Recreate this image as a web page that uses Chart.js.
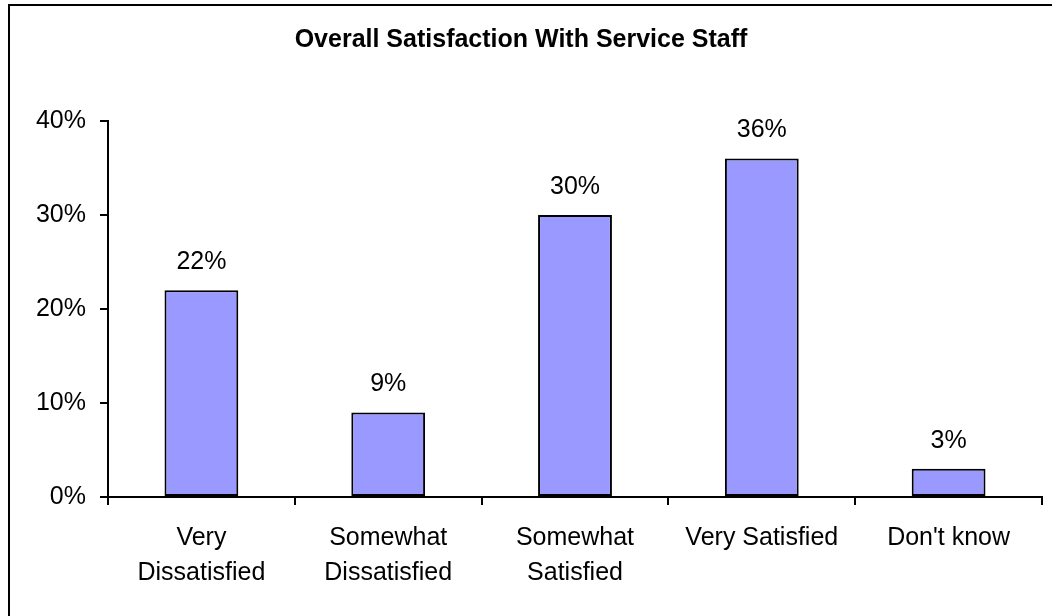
<!DOCTYPE html>
<html>
<head>
<meta charset="utf-8">
<title>Overall Satisfaction With Service Staff</title>
<script src="https://cdn.jsdelivr.net/npm/chart.js@4.4.1/dist/chart.umd.min.js"></script>
<style>
  html, body { margin:0; padding:0; background:#fff; }
  #wrap { width:1052px; height:616px; }
</style>
</head>
<body>
<div id="wrap"><canvas id="satChart" width="1052" height="616"></canvas></div>
<script>
const categories = [['Very', 'Dissatisfied'], ['Somewhat', 'Dissatisfied'], ['Somewhat', 'Satisfied'], 'Very Satisfied', "Don't know"];
const shares     = [22, 9, 30, 36, 3];
const yTicks     = [0, 10, 20, 30, 40];

const FONT = '"Liberation Sans", Arial, sans-serif';

/* frame lines along the top and left edge */
const framePlugin = {
  id: 'frame',
  beforeDraw(chart){
    const ctx = chart.ctx;
    ctx.save();
    ctx.fillStyle = '#fff';
    ctx.fillRect(0, 0, chart.width, chart.height);
    ctx.fillStyle = '#000';
    ctx.fillRect(8, 4, chart.width - 8, 2);
    ctx.fillRect(8, 4, 2, chart.height - 4);
    ctx.restore();
  }
};

/* percentage above each bar */
const valueLabels = {
  id: 'valueLabels',
  afterDatasetsDraw(chart){
    const ctx = chart.ctx;
    const meta = chart.getDatasetMeta(0);
    ctx.save();
    ctx.font = '25px ' + FONT;
    ctx.fillStyle = '#000';
    ctx.textAlign = 'center';
    ctx.textBaseline = 'middle';
    meta.data.forEach((bar, i) => {
      ctx.fillText(shares[i] + '%', bar.x, bar.y - 28);
    });
    ctx.restore();
  }
};

new Chart(document.getElementById('satChart'), {
  type: 'bar',
  data: {
    labels: categories,
    datasets: [{
      data: shares,
      backgroundColor: '#9999ff',
      borderColor: '#000',
      borderWidth: 2,
      borderSkipped: false,
      categoryPercentage: 1,
      barPercentage: 0.395
    }]
  },
  options: {
    responsive: false,
    animation: false,
    devicePixelRatio: 1,
    layout: { padding: { left: 0, right: 10, top: 0, bottom: 0 } },
    plugins: {
      legend: { display: false },
      tooltip: { enabled: false },
      title: {
        display: true,
        text: 'Overall Satisfaction With Service Staff',
        color: '#000',
        font: { family: FONT, size: 25, weight: 'bold', lineHeight: 1.2 },
        padding: { top: 25, bottom: 66 }
      }
    },
    scales: {
      x: {
        grid: { offset: true, drawOnChartArea: false, color: '#000', lineWidth: 2, tickLength: 8 },
        border: { color: '#000', width: 2 },
        ticks: {
          color: '#000',
          padding: 16,
          maxRotation: 0,
          autoSkip: false,
          font: { family: FONT, size: 25, lineHeight: 1.4 }
        },
        afterFit(scale){ scale.height = 119; }
      },
      y: {
        min: 0,
        max: 40,
        afterBuildTicks(scale){ scale.ticks = yTicks.map(v => ({ value: v })); },
        grid: { drawOnChartArea: false, color: '#000', lineWidth: 2, tickLength: 8 },
        border: { color: '#000', width: 2 },
        ticks: {
          color: '#000',
          padding: 14,
          font: { family: FONT, size: 25 },
          callback: v => v + '%'
        },
        afterFit(scale){ scale.width = 108; }
      }
    }
  },
  plugins: [framePlugin, valueLabels]
});
</script>
</body>
</html>
